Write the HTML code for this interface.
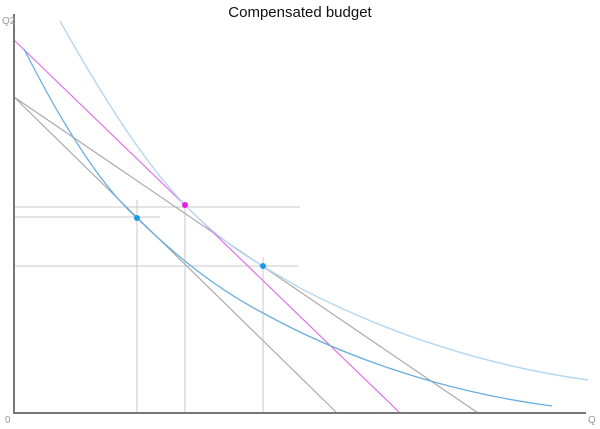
<!DOCTYPE html>
<html><head><meta charset="utf-8"><style>
html,body{margin:0;padding:0;background:#fff;}
svg{display:block;font-family:"Liberation Sans",sans-serif;}
</style></head><body>
<svg width="600" height="429" viewBox="0 0 600 429" xmlns="http://www.w3.org/2000/svg">
<rect width="600" height="429" fill="#fff"/>
<text x="300" y="17" text-anchor="middle" font-size="15" fill="#111">Compensated budget</text>
<!-- guide lines -->
<g stroke="#c8c8c8" stroke-width="1" fill="none">
<line x1="14" y1="207" x2="300" y2="207"/>
<line x1="14" y1="217" x2="160" y2="217"/>
<line x1="14" y1="266" x2="298" y2="266"/>
<line x1="137" y1="200" x2="137" y2="413"/>
<line x1="185" y1="205" x2="185" y2="413"/>
<line x1="263" y1="257" x2="263" y2="413"/>
</g>
<!-- budget lines -->
<line x1="14" y1="97" x2="337" y2="413" stroke="#aaa" stroke-width="1.2"/>
<line x1="14" y1="97" x2="478" y2="413" stroke="#aaa" stroke-width="1.2"/>
<line x1="14" y1="40" x2="400" y2="413" stroke="#e070e8" stroke-width="1.2"/>
<!-- indifference curves -->
<path d="M60,21 C110,110 150,170 190,210 S263,266 300,288 C380,330 480,365 588,380" stroke="#b8d8f0" stroke-width="1.5" fill="none"/>
<path d="M24,49 C60,120 100,185 137,218 C175,255 215,288 263,313 C330,350 430,390 552,406" stroke="#6aaee0" stroke-width="1.3" fill="none"/>
<!-- points -->
<circle cx="137" cy="218" r="3" fill="#1a9be8"/>
<circle cx="185" cy="205" r="3" fill="#e020e0"/>
<circle cx="263" cy="266" r="3" fill="#1a9be8"/>
<!-- axes -->
<line x1="14" y1="14" x2="14" y2="414" stroke="#777" stroke-width="2"/>
<line x1="13" y1="413" x2="586" y2="413" stroke="#777" stroke-width="2"/>
<text x="2" y="24" font-size="10" fill="#999">Q2</text>
<text x="5" y="423" font-size="10" fill="#999">0</text>
<text x="588" y="423" font-size="10" fill="#999">Q</text>
</svg>
</body></html>
